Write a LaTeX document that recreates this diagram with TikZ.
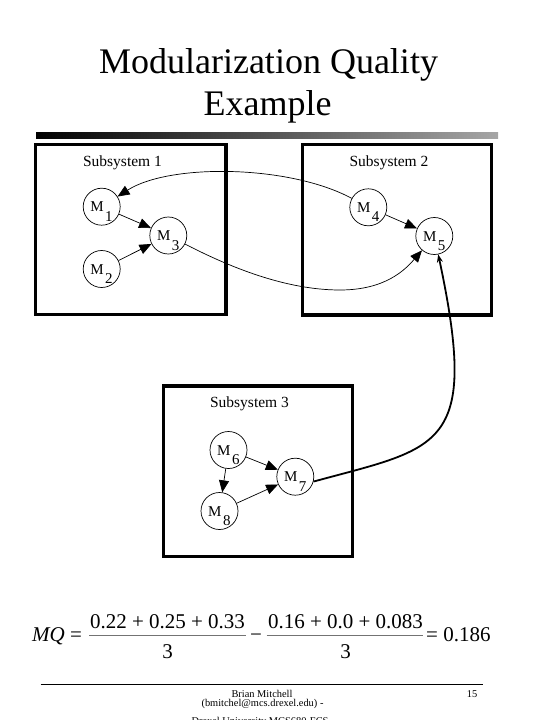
\documentclass[tikz,border=0pt]{standalone}
\usepackage{fontspec}
\setmainfont{Liberation Serif}
\usetikzlibrary{arrows.meta}
\newcommand\mymod[4]{%
  \node[mod] (#1) at (#2,#3) {};
  \node[mlab] (#1t) at ([xshift=-11.5pt,yshift=-5pt]#1.center) {M\kern1.5pt\raisebox{-9.5pt}{#4}};}
\begin{document}
\begin{tikzpicture}[x=1pt,y=-1pt,
  box/.style={draw, line width=3.5pt},
  mod/.style={draw, circle, line width=0.7pt, minimum size=37pt, inner sep=0pt},
  mlab/.style={inner sep=0pt, font=\fontsize{15}{15}\selectfont, anchor=base west},
  sublab/.style={inner sep=0pt, font=\fontsize{15.5}{16}\selectfont, anchor=base},
  arr/.style={line width=0.7pt, -{Triangle[length=12pt,width=10pt]}},
  thickarr/.style={line width=1.8pt, -{Stealth[length=8pt,width=6pt]}},
  ttl/.style={inner sep=0pt, font=\fontsize{36}{40}\selectfont, anchor=base},
  fml/.style={inner sep=0pt, font=\fontsize{21}{24}\selectfont},
  foot/.style={inner sep=0pt, font=\fontsize{10.4}{11}\selectfont, anchor=base},
  fbar/.style={draw=black!55, line width=0.9pt}
]
\useasboundingbox (0,0) rectangle (540,720);
\clip (0,0) rectangle (540,720);

% title
\node[ttl] (t1) at (268.5,73) {Modularization Quality};
\node[ttl] (t2) at (267.5,115) {Example};
\shade[left color=black, right color=black!35] (36,132.5) rectangle (498,138.5);

% subsystem boxes
\draw[box] (35.5,144.5) rectangle (226,314.5);
\draw[box] (302.5,144.5) rectangle (491.5,315);
\draw[box] (163.5,386) rectangle (352.5,556.5);
\node[sublab] (s1) at (122.5,166) {Subsystem 1};
\node[sublab] (s2) at (389,166) {Subsystem 2};
\node[sublab] (s3) at (249.5,407.5) {Subsystem 3};

% modules
\mymod{m1}{101.7}{206.7}{1}
\mymod{m2}{101.7}{269}{2}
\mymod{m3}{168.3}{235.5}{3}
\mymod{m4}{368.3}{207.3}{4}
\mymod{m5}{434.3}{236}{5}
\mymod{m6}{228.5}{450}{6}
\mymod{m7}{295.3}{476.7}{7}
\mymod{m8}{219.5}{511}{8}

% edges
\draw[arr] (m1) -- (m3);
\draw[arr] (m2) -- (m3);
\draw[arr] (m4) -- (m5);
\draw[arr] (m6) -- (m7);
\draw[arr] (m6) -- (m8);
\draw[arr] (m8) -- (m7);
\draw[arr] (m4) .. controls (290,165) and (170,163) .. (m1);
\coordinate (c35) at (340,290);
\draw[arr] (m3) .. controls (220,262) and (280,290) .. (c35) .. controls (385,290) and (405,270) .. (m5);
\draw[thickarr] (m7.-15) .. controls (440,447) and (480,450) .. (m5);

% formula
\node[fml, anchor=base west] (mq) at (32,641) {\textit{MQ} =};
\node[fml, anchor=base] (n1) at (167.5,628) {0.22 + 0.25 + 0.33};
\node[fml, anchor=base] (d1) at (167.5,658) {3};
\draw[fbar] (89,635) -- (246,635);
\node[fml, anchor=base] (mi) at (256,641) {\char"2212};
\node[fml, anchor=base] (n2) at (345.5,628) {0.16 + 0.0 + 0.083};
\node[fml, anchor=base] (d2) at (345.5,658) {3};
\draw[fbar] (266.7,635) -- (423.3,635);
\node[fml, anchor=base west] (res) at (426,641) {= 0.186};

% footer
\draw[line width=0.8pt] (40.7,684) -- (482.7,684);
\node[foot] (f1) at (262,697) {Brian Mitchell};
\node[foot] (f2) at (262.5,706.5) {(bmitchel@mcs.drexel.edu) -};
\node[foot] (f3) at (260,724) {Drexel University MCS680-FCS};
\node[foot] (pg) at (472,697) {15};
\end{tikzpicture}
\end{document}
